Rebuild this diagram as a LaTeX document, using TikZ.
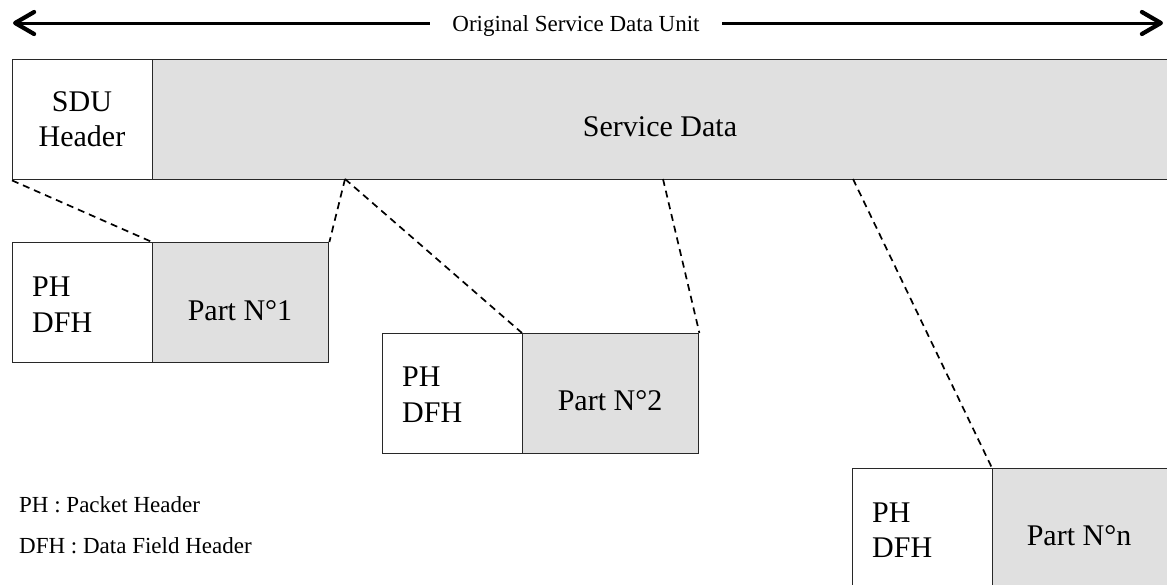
\documentclass[tikz,border=0pt]{standalone}
\usepackage{fontspec}
\setmainfont{Liberation Serif}
\usetikzlibrary{arrows.meta}
\definecolor{datagray}{RGB}{224,224,224}
\definecolor{edgegray}{RGB}{40,40,40}
\begin{document}
\begin{tikzpicture}[x=1pt,y=-1pt,
  hdrbox/.style={draw=edgegray,fill=white,line width=1.4pt,minimum width=140pt,minimum height=120pt,anchor=north west,inner sep=0pt},
  databox/.style={draw=edgegray,fill=datagray,line width=1.4pt,minimum height=120pt,anchor=north west,inner sep=0pt},
  bigtxt/.style={font=\fontsize{30}{35.5}\selectfont,inner sep=0pt},
  hdrtxt/.style={bigtxt,align=left,anchor=west},
  smalltxt/.style={font=\fontsize{23}{27}\selectfont,inner sep=0pt},
  cut/.style={dash pattern=on 7pt off 5pt,line width=1.7pt},
  span/.style={line width=3pt,{Straight Barb[length=19pt,width=22pt,line width=4.2pt,round]}-{Straight Barb[length=19pt,width=22pt,line width=4.2pt,round]}}
]
\useasboundingbox (0,0) rectangle (1167,584);
\clip (0,0) rectangle (1167,584);

% overall span arrow
\coordinate (aL) at (13,23);
\coordinate (aR) at (1163,23);
\draw[span] (aL) -- (aR);
\node[smalltxt,fill=white,inner xsep=22pt,inner ysep=4pt,anchor=base] (title) at (576,31) {Original Service Data Unit};

% original SDU
\node[hdrbox] (sduh) at (12,59) {};
\node[databox,minimum width=1016pt] (sdata) at (152,59) {};
\node[bigtxt,align=center] (sduhtxt) at (82,119) {SDU\\Header};
\node[bigtxt] (sdatatxt) at (660,126.5) {Service Data};

% part 1
\node[hdrbox] (ph1) at (12,242) {};
\node[databox,minimum width=176pt] (p1) at (152,242) {};
\node[hdrtxt] (ph1txt) at (32,304.5) {PH\\DFH};
\node[bigtxt] (p1txt) at (240,310.5) {Part N°1};

% part 2
\node[hdrbox] (ph2) at (382,333) {};
\node[databox,minimum width=176pt] (p2) at (522,333) {};
\node[hdrtxt] (ph2txt) at (402,394.5) {PH\\DFH};
\node[bigtxt] (p2txt) at (610,401) {Part N°2};

% part n
\node[hdrbox] (phn) at (852,468) {};
\node[databox,minimum width=176pt] (pn) at (992,468) {};
\node[hdrtxt] (phntxt) at (872,530) {PH\\DFH};
\node[bigtxt] (pntxt) at (1079,536) {Part N°n};

% cut lines
\coordinate (c1) at (345,179);
\coordinate (c2) at (663,179);
\coordinate (c3) at (853,179);
\draw[cut] (sduh.south west) -- (p1.north west);
\draw[cut] (c1) -- (p1.north east);
\draw[cut] (c1) -- (p2.north west);
\draw[cut] (c2) -- (p2.north east);
\draw[cut] (c3) -- (pn.north west);

% legend
\node[smalltxt,anchor=base west] (leg1) at (19,512) {PH : Packet Header};
\node[smalltxt,anchor=base west] (leg2) at (19,553) {DFH : Data Field Header};
\end{tikzpicture}
\end{document}
